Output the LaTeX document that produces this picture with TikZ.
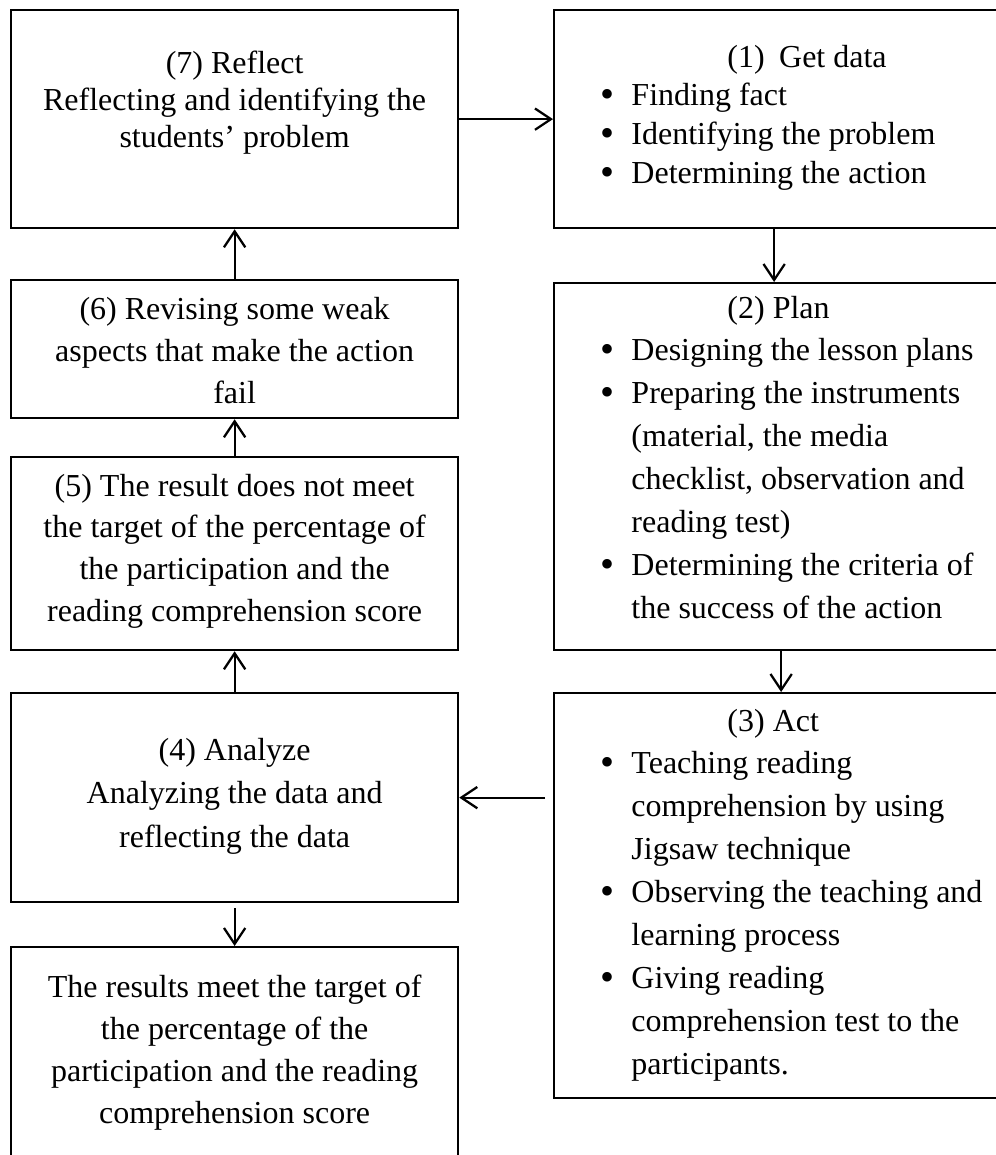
\documentclass[tikz,border=0pt]{standalone}
\usepackage{fontspec}
\setmainfont{Liberation Serif}
\usetikzlibrary{arrows.meta,positioning}

\newlength{\px}
\setlength{\px}{0.375pt}

\newenvironment{blist}{\begin{tabular}[t]{@{}p{11.6pt}@{}l@{}}}{\end{tabular}}
\newcommand{\hd}[1]{\multicolumn{2}{@{}l@{}}{\hspace{47.6pt}#1}}
\newcommand{\bul}{\raisebox{-0.6pt}{\fontsize{15}{15}\selectfont\textbullet}}

\tikzset{
  box/.style={draw, line width=0.85pt, anchor=north west, inner sep=0pt,
    minimum width=447\px},
  % base = baseline of the last line
  txt/.style={font=\fontsize{12}{#1}\selectfont, align=center, inner sep=0pt, anchor=base},
  lst/.style={font=\fontsize{12}{#1}\selectfont, inner sep=0pt, anchor=base west},
  arr/.style={-{Straight Barb[length=6pt,width=8pt]}, line width=0.85pt},
}

\begin{document}
\begin{tikzpicture}[x=1\px, y=-1\px]
\useasboundingbox (0,0) rectangle (996,1155);
\clip (0,0) rectangle (996,1155);

% left column
\node[box, minimum height=218\px] (reflect) at (10,9) {};
\node[box, minimum height=138\px] (revise) at (10,279) {};
\node[box, minimum height=193\px] (notmeet) at (10,456) {};
\node[box, minimum height=209\px] (analyze) at (10,692) {};
\node[box, minimum height=212\px] (meet) at (10,946) {};

% right column
\node[box, minimum height=218\px] (getdata) at (553,9) {};
\node[box, minimum height=367\px] (plan) at (553,282) {};
\node[box, minimum height=405\px] (act) at (553,692) {};

\node[txt=13.7pt] (reflectTxt) at ([yshift=-138\px]reflect.north)
  {(7) Reflect\\Reflecting and identifying the\\students' problem};
\node[txt=15.6pt] (reviseTxt) at ([yshift=-124\px]revise.north)
  {(6) Revising some weak\\aspects that make the action\\fail};
\node[txt=15.6pt] (notmeetTxt) at ([yshift=-165\px]notmeet.north)
  {(5) The result does not meet\\the target of the percentage of\\the participation and the\\reading comprehension score};
\node[txt=16.3pt] (analyzeTxt) at ([yshift=-155\px]analyze.north)
  {(4) Analyze\\Analyzing the data and\\reflecting the data};
\node[txt=15.75pt] (meetTxt) at ([yshift=-177\px]meet.north)
  {The results meet the target of\\the percentage of the\\participation and the reading\\comprehension score};

\node[lst=14.6pt] (getdataTxt) at ([xshift=47\px,yshift=-58\px]getdata.north west)
  {\begin{blist}
   \hd{(1)\hspace{0.45em}Get data}\\
   \bul & Finding fact\\
   \bul & Identifying the problem\\
   \bul & Determining the action
   \end{blist}};
\node[lst=16.1pt] (planTxt) at ([xshift=47\px,yshift=-36\px]plan.north west)
  {\begin{blist}
   \hd{(2) Plan}\\
   \bul & Designing the lesson plans\\
   \bul & Preparing the instruments\\
   & (material, the media\\
   & checklist, observation and\\
   & reading test)\\
   \bul & Determining the criteria of\\
   & the success of the action
   \end{blist}};
\node[lst=16.1pt] (actTxt) at ([xshift=47\px,yshift=-39\px]act.north west)
  {\begin{blist}
   \hd{(3) Act}\\
   \bul & Teaching reading\\
   & comprehension by using\\
   & Jigsaw technique\\
   \bul & Observing the teaching and\\
   & learning process\\
   \bul & Giving reading\\
   & comprehension test to the\\
   & participants.
   \end{blist}};

% arrows
\draw[arr] (reflect) -- (getdata);
\draw[arr] ([xshift=-3.5\px]getdata.south) -- ([xshift=-3.5\px]plan.north);
\draw[arr] ([xshift=3.5\px]plan.south) -- ([xshift=3.5\px]act.north);
\draw[arr] ([xshift=-8\px]act.west |- analyze.east) -- (analyze.east);
\draw[arr] (analyze.north) -- (notmeet.south);
\draw[arr] (notmeet.north) -- (revise.south);
\draw[arr] (revise.north) -- (reflect.south);
\draw[arr, shorten <=5\px] (analyze.south) -- (meet.north);
\end{tikzpicture}
\end{document}
